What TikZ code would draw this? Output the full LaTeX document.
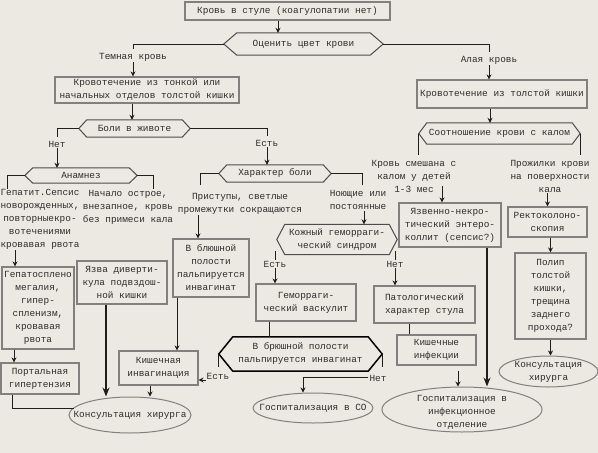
\documentclass[tikz,border=0pt]{standalone}
\usepackage{fontspec}
\setmainfont{Liberation Mono}
\usetikzlibrary{arrows.meta,shapes.geometric}
\definecolor{bgc}{RGB}{236,233,226}
\definecolor{boxc}{RGB}{128,128,128}
\definecolor{txtc}{RGB}{45,45,45}
\definecolor{linec}{RGB}{30,30,30}
\newcommand\hexdraw[3][]{\draw[hexline,#1] (#2.west) -- ([xshift=#3]#2.north west) -- ([xshift=-#3]#2.north east) -- (#2.east) -- ([xshift=-#3]#2.south east) -- ([xshift=#3]#2.south west) -- cycle;}
\begin{document}
\begin{tikzpicture}[x=1pt,y=-1pt,font=\fontsize{9.4}{13}\selectfont,
  bx/.style 2 args={draw=boxc,line width=1.1pt,text=txtc,inner sep=0pt,align=center,minimum width=#1,minimum height=#2},
  hx/.style 2 args={inner sep=0pt,text=txtc,align=center,minimum width=#1,minimum height=#2},
  el/.style 2 args={ellipse,draw=boxc,line width=1pt,inner sep=0pt,minimum width=#1,minimum height=#2},
  lbl/.style={inner sep=1pt,text=txtc,align=center},
  conn/.style={draw=linec,line width=0.9pt},
  arr/.style={conn,-{Stealth[length=5pt,width=5pt]}},
  bigarr/.style={draw=linec,line width=1.4pt,-{Stealth[length=9pt,width=7pt]}},
  hexline/.style={draw=black!70,line width=1pt}]
\fill[bgc] (0,0) rectangle (598,453);
\useasboundingbox (0,0) rectangle (598,453);

% top
\node[bx={205}{18}] (top) at (287.5,11) {Кровь в стуле (коагулопатии нет)};
\node[hx={159}{22}] (hA) at (303.5,44) {Оценить цвет крови};
\hexdraw{hA}{13pt}
\draw[arr] ([xshift=-9.5pt]top.south) -- ([xshift=-9.5pt]top.south |- hA.north);
\node[lbl] (lDark) at (133,57) {Темная кровь};
\node[lbl] (lRed) at (489,60) {Алая кровь};
\node[bx={184}{26}] (b1) at (147,90) {Кровотечение из тонкой или\\начальных отделов толстой кишки};
\node[bx={170}{28}] (b2) at (502,94) {Кровотечение из толстой кишки};
\draw[conn] (hA.west) -| ([yshift=3pt]lDark.north);
\draw[arr] (lDark.south) -- (lDark.south |- b1.north);
\draw[conn] (hA.east) -| ([yshift=3pt]lRed.north);
\draw[arr] (lRed.south) -- (lRed.south |- b2.north);

% left branch
\node[hx={111}{17}] (hB) at (134.5,128.5) {Боли в животе};
\hexdraw{hB}{8pt}
\draw[arr] ([xshift=-15pt]b1.south) -- ([xshift=-15pt]b1.south |- hB.north);
\node[lbl] (lNo2) at (57,144) {Нет};
\node[lbl] (lYes2) at (267,143) {Есть};
\node[hx={112}{15}] (hG) at (81,175.5) {Анамнез};
\hexdraw{hG}{8pt}
\node[hx={112}{17}] (hF) at (275,173.5) {Характер боли};
\hexdraw{hF}{8pt}
\draw[conn] (hB.west) -| ([yshift=3pt]lNo2.north);
\draw[arr] (lNo2.south) -- (lNo2.south |- hG.north);
\draw[conn] (hB.east) -| ([yshift=3pt]lYes2.north);
\draw[arr] (lYes2.south) -- (lYes2.south |- hF.north);
\draw[conn] (hF.west) -| ++(-18,11);
\draw[conn] (hF.east) -| ++(31,11);
\draw[conn] (hG.west) -| ++(-17,13);
\draw[conn] (hG.east) -| ++(16,13);

\node[lbl] (tHep) at (40,219) {Гепатит.Сепсис\\новорожденных,\\повторныекро-\\вотечениями\\кровавая рвота};
\node[lbl] (tOnset) at (128,207.5) {Начало острое,\\внезапное, кровь\\без примеси кала};
\node[lbl] (tPain1) at (240,203.5) {Приступы, светлые\\промежутки сокращаются};
\node[lbl] (tPain2) at (358,200) {Ноющие или\\постоянные};

\node[bx={72}{82}] (hep) at (38,308) {Гепатосплено\\мегалия,\\гипер-\\спленизм,\\кровавая\\рвота};
\draw[arr] ([xshift=-25pt]tHep.south) -- ([xshift=-25pt]tHep.south |- hep.north);
\node[bx={78}{31}] (portal) at (40,378.5) {Портальная\\гипертензия};
\draw[arr] ([xshift=-24pt]hep.south) -- ([xshift=-24pt]hep.south |- portal.north);
\node[el={122}{36}] (cons1) at (130,415) {};
\node[lbl] (cons1t) at (cons1.center) {Консультация хирурга};
\draw[conn] ([xshift=-28pt]portal.south) |- ([xshift=5pt,yshift=7pt]cons1.west);
\node[bx={90}{43}] (yzdiv) at (122,282.5) {Язва диверти-\\кула подвздош-\\ной кишки};
\draw[bigarr] ([xshift=-16pt]yzdiv.south) -- ([xshift=-16pt]yzdiv.south |- cons1.north);
\node[bx={76}{58}] (blush) at (211,268) {В блюшной\\полости\\пальпируется\\инвагинат};
\draw[arr] ([xshift=-13pt]blush.north |- tPain1.south) -- ([xshift=-13pt]blush.north);
\node[bx={79}{34}] (kinv) at (158.5,368) {Кишечная\\инвагинация};
\draw[arr] ([xshift=-34pt]blush.south) -- ([xshift=-34pt]blush.south |- kinv.north);
\draw[arr] ([xshift=-8.5pt]kinv.south) -- ([xshift=-8.5pt]kinv.south |- cons1.north);

% middle
\node[hx={120}{30}] (hD) at (337,239.5) {Кожный геморраги-\\ческий синдром};
\hexdraw{hD}{8pt}
\draw[arr] ([xshift=27pt]hD.north |- tPain2.south) -- ([xshift=27pt]hD.north);
\node[lbl] (lYes3) at (275,264) {Есть};
\node[lbl] (lNo3) at (395,264) {Нет};
\draw[conn] (lYes3.north) -- ++(0,-9);
\draw[conn] (lNo3.north) -- ++(0,-9);
\node[bx={100}{37}] (vasc) at (306,302.5) {Геморраги-\\ческий васкулит};
\draw[arr] (lYes3.south) -- (lYes3.south |- vasc.north);
\node[bx={101}{37}] (patho) at (424.5,304.5) {Патологический\\характер стула};
\draw[arr] (lNo3.south) -- (lNo3.south |- patho.north);
\node[bx={79}{30}] (kinf) at (436.5,350) {Кишечные\\инфекции};
\draw[conn] ([xshift=-15.5pt]patho.south) -- ([xshift=-15.5pt]patho.south |- kinf.north);

\node[hx={163}{34}] (hE) at (300.5,354) {В брюшной полости\\пальпируется инвагинат};
\hexdraw[draw=black,line width=1.5pt]{hE}{14pt}
\draw[conn] ([xshift=-37pt]vasc.south) -- ([xshift=-37pt]vasc.south |- hE.north);
\draw[conn] (hE.west) -- ++(0,13);
\draw[conn] (hE.east) -- ++(0,13);
\node[lbl] (lYes4) at (218,376) {Есть};
\node[lbl] (lNo4) at (378,378) {Нет};
\draw[arr] ([yshift=-4pt]lYes4.west) -- ([yshift=-4pt]lYes4.west -| kinv.east);
\node[el={120}{30}] (hosp1) at (313,408) {};
\node[lbl] (hosp1t) at (hosp1.center) {Госпитализация в СО};
\draw[arr] ([yshift=1pt]lNo4.west) -| ([xshift=-10pt]hosp1.north);

% right branch
\node[hx={161}{21}] (hC) at (499.5,133.5) {Соотношение крови с калом};
\hexdraw{hC}{8pt}
\draw[arr] ([xshift=-12pt]b2.south) -- ([xshift=-12pt]b2.south |- hC.north);
\draw[conn] (hC.west) -- ++(0,21);
\draw[conn] (hC.east) -- ++(0,21);
\node[lbl] (tMix) at (414,176.5) {Кровь смешана с\\калом у детей\\1-3 мес};
\node[bx={102}{44}] (yazv) at (450,225) {Язвенно-некро-\\тический энтеро-\\коллит (сепсис?)};
\draw[arr] ([xshift=-8pt,yshift=16pt]yazv.north) -- ([xshift=-8pt]yazv.north);
\node[lbl] (tStreak) at (550,176) {Прожилки крови\\на поверхности\\кала};
\node[bx={79}{30}] (rekto) at (547.5,222) {Ректоколоно-\\скопия};
\draw[arr] (tStreak.south -| rekto.north) -- (rekto.north);
\node[bx={71}{86}] (polyp) at (550.5,296) {Полип\\толстой\\кишки,\\трещина\\заднего\\прохода?};
\draw[arr] (rekto.south -| polyp.north) -- (polyp.north);
\node[el={99}{31}] (cons2) at (548.5,371.5) {};
\node[lbl] (cons2t) at (cons2.center) {Консультация\\хирурга};
\draw[arr] (polyp.south) -- (polyp.south |- cons2.north);
\node[el={160}{45}] (hosp2) at (462,409.5) {};
\node[lbl] (hosp2t) at ([yshift=-2.5pt]hosp2.center) {Госпитализация в\\инфекционное\\отделение};
\draw[bigarr] ([xshift=37pt]yazv.south) -- ([xshift=37pt]yazv.south |- hosp2.north);
\draw[arr] ([xshift=21.5pt,yshift=-5pt]kinf.south) -- ([xshift=21.5pt]kinf.south |- hosp2.north);
\end{tikzpicture}
\end{document}
